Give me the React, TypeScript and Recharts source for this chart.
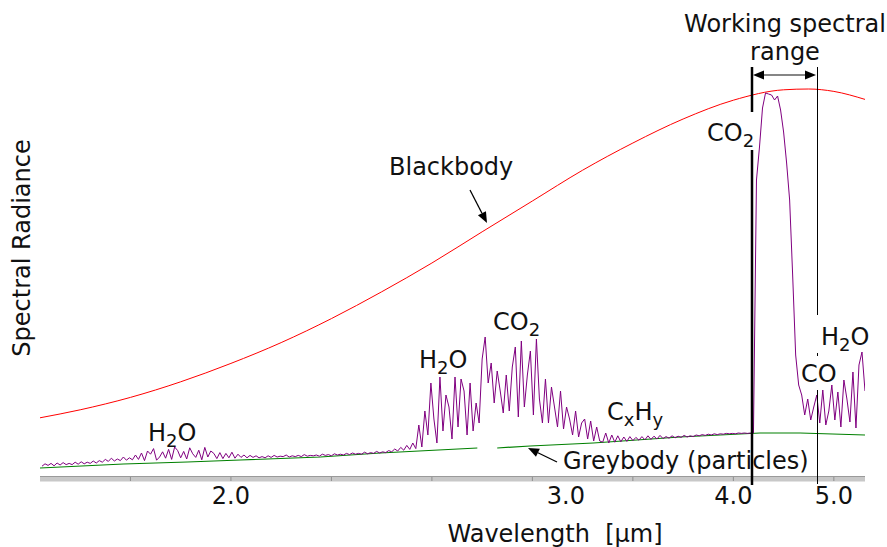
import React from "react";
import { LineChart, Line, XAxis, YAxis } from "recharts";

const FONT = "'DejaVu Sans', Verdana, sans-serif";

// axis is linear in wavenumber (cm^-1), labelled in wavelength (µm)
const TICK_MARKS = [5500, 5000, 4500, 4000, 3500, 3000, 2500, 2000];
const WAVELENGTH_LABELS = [2.0, 3.0, 4.0, 5.0];

// measured emission spectrum, one value every 15 cm^-1 starting at 5940 cm^-1
const SPEC_START = 5940;
const SPEC_STEP = 15;
const SPECTRUM = [
  3.2, 3.8, 3.4, 3.9, 3.3, 4.0, 3.5, 4.1, 3.6, 3.9, 3.6, 4.2, 3.7, 4.3, 3.8, 4.2, 3.9, 4.5, 4.0, 4.6,
  4.2, 4.9, 4.4, 5.2, 4.5, 5.0, 4.6, 5.5, 4.7, 5.3, 4.8, 6.0, 4.9,
  6.5, 4.6, 7.0, 6.2, 7.6, 4.7, 5.5, 6.8, 5.2, 7.4, 4.9, 8.0, 7.1, 5.3, 6.9, 5.0, 7.8, 6.3, 5.4, 7.2, 4.8, 7.9, 5.5, 7.0, 6.4, 5.1,
  6.6, 5.1, 6.4, 5.3, 6.7, 5.2, 6.2, 5.4, 6.0, 5.3, 5.9, 5.4, 5.8, 5.3,
  5.6, 5.3, 5.8, 5.4, 5.9, 5.5, 5.7, 5.6, 6.0, 5.5, 5.8, 5.6, 5.9, 5.6, 6.1, 5.7, 5.9, 5.8, 6.0, 5.7,
  6.2, 5.9, 6.1, 5.8, 6.3, 6.0, 6.2, 6.0, 6.4, 6.1, 6.5, 6.2, 6.4, 6.2, 6.7, 6.3, 6.6, 6.4, 6.9, 6.5,
  6.8, 6.6, 7.1, 6.8, 7.5, 7.0, 7.9, 7.2, 8.4, 7.4, 9.0, 7.6,
  13.5, 8, 17, 11, 24, 15, 9, 25.5, 12, 21, 18, 10, 25.5, 13, 25, 22, 11, 24, 12, 19, 14,
  30, 35.5, 24, 29, 19, 27, 22, 16.5, 26, 17, 28, 33, 15.5, 34.5, 18, 26, 32, 16, 35, 20, 14,
  25, 14, 23, 18, 13, 22, 12.5, 18, 15, 11, 17, 10.5, 14, 15, 10, 14.5, 9.5, 13, 9.5,
  9.2, 11.5, 9, 11, 9.2, 10.8, 9.3, 10.5, 9.4, 10.6,
  9.6, 10.4, 9.7, 10.6, 9.8, 10.8, 9.9, 10.7, 10.0, 10.9, 10.1, 10.6, 10.2, 10.8, 10.3, 10.7, 10.4, 10.9, 10.5, 10.8,
  10.6, 11.0, 10.8, 11.1, 10.9, 11.2, 11.0, 11.3, 11.1, 11.3, 11.2, 11.4, 11.3, 11.4, 11.3, 11.5, 11.4, 11.5, 11.4, 11.5, 11.5,
  74.75, 83, 92.75, 96.5, 96.25, 96, 94.75, 95.75, 92.25, 86.75, 79, 69.75, 51, 31, 23.5,
  21, 16, 20, 14.75, 18, 21, 14, 22.25, 13.5, 17, 23.5, 14.75, 21.75, 13, 24.75, 20, 14.25, 26.75, 12.75, 28.5, 31.75, 22,
];

// blackbody curve
const BB_NU = [5950, 5750, 5500, 5250, 5000, 4750, 4500, 4250, 4000, 3750, 3500, 3250, 3000, 2750, 2500, 2250, 2125, 2000, 1845];
const BB_VAL = [15.3, 17.3, 20.4, 24.3, 28.9, 34.1, 40.1, 46.8, 54.0, 61.8, 69.5, 77.2, 84.0, 90.0, 94.7, 97.3, 97.5, 96.9, 94.9];

// greybody (particles) curve, with a short gap near 3725 cm^-1
const GB_NU = [5950, 5535, 5217, 4953, 4555, 4257, 3774, 3725, 3675, 3511, 3197, 2765, 2367, 2168, 1845];
const GB_VAL = [2.75, 3.75, 4.25, 4.75, 5.5, 6.5, 7.75, null, 7.75, 8.25, 9, 10.5, 11.5, 11.5, 11];

const specData = SPECTRUM.map((v, i) => ({ nu: SPEC_START - i * SPEC_STEP, v }));
const bbData = BB_NU.map((nu, i) => ({ nu, v: BB_VAL[i] }));
const gbData = GB_NU.map((nu, i) => ({ nu, v: GB_VAL[i] }));

const axisTicks = Array.from(new Set([...TICK_MARKS, ...WAVELENGTH_LABELS.map((l) => 1e4 / l)]));

function AxisTick({ x, y, payload }: any) {
  const v = payload.value;
  const lab = WAVELENGTH_LABELS.find((l) => Math.abs(1e4 / l - v) < 1e-6);
  return (
    <g>
      {TICK_MARKS.includes(v) && <line x1={x} x2={x} y1={y - 3} y2={y + 2} stroke="#8f8f8f" />}
      {lab !== undefined && (
        <text x={x} y={y + 25} textAnchor="middle" fontFamily={FONT} fontSize={24} fill="#111">
          {lab.toFixed(1)}
        </text>
      )}
    </g>
  );
}

function Arrow({ x1, y1, x2, y2, head = 11, half = 4.5, color = "#000", lineColor = "#000" }: any) {
  const dx = x2 - x1;
  const dy = y2 - y1;
  const len = Math.hypot(dx, dy);
  const ux = dx / len;
  const uy = dy / len;
  const bx = x2 - ux * head;
  const by = y2 - uy * head;
  const pts = `${x2},${y2} ${bx - uy * half},${by + ux * half} ${bx + uy * half},${by - ux * half}`;
  return (
    <g>
      <line x1={x1} y1={y1} x2={bx} y2={by} stroke={lineColor} strokeWidth={1.3} />
      <polygon points={pts} fill={color} />
    </g>
  );
}

const txt = { fontFamily: FONT, fontSize: 24, fill: "#111" };
const SUB = 18;

export default function App() {
  return (
    <div style={{ position: "absolute", left: 0, top: 0, width: 887, height: 547, background: "#fff" }}>
      <LineChart width={887} height={547} margin={{ top: 79, right: 22, bottom: 28, left: 40 }}>
        <XAxis
          type="number"
          dataKey="nu"
          domain={[1845, 5950]}
          reversed
          allowDataOverflow
          ticks={axisTicks}
          interval={0}
          tick={<AxisTick />}
          tickSize={0}
          tickMargin={0}
          tickLine={false}
          height={40}
          axisLine={{ stroke: "#c8c8c8", strokeWidth: 5 }}
        />
        <YAxis type="number" domain={[0, 100]} hide width={0} />
        <Line data={bbData} dataKey="v" type="monotone" stroke="#ff0000" strokeWidth={1} dot={false} isAnimationActive={false} />
        <Line data={gbData} dataKey="v" type="linear" stroke="#008000" strokeWidth={1.2} dot={false} connectNulls={false} isAnimationActive={false} />
        <Line data={specData} dataKey="v" type="linear" stroke="#800080" strokeWidth={1} dot={false} isAnimationActive={false} />
      </LineChart>

      <svg width={887} height={547} style={{ position: "absolute", left: 0, top: 0, pointerEvents: "none" }}>
        <line x1={40} x2={865} y1={476.5} y2={476.5} stroke="#9a9a9a" />

        {/* working spectral range markers */}
        <line x1={752} x2={752} y1={67} y2={112} stroke="#000" strokeWidth={2.5} />
        <line x1={752} x2={752} y1={150} y2={485} stroke="#000" strokeWidth={2.5} />
        <line x1={817.5} x2={817.5} y1={67} y2={315} stroke="#000" strokeWidth={1} />
        <line x1={817.5} x2={817.5} y1={353} y2={356} stroke="#000" strokeWidth={1} />
        <line x1={817.5} x2={817.5} y1={390} y2={484} stroke="#000" strokeWidth={1} />
        <Arrow x1={785} y1={75} x2={753} y2={75} lineColor="#444" />
        <Arrow x1={785} y1={75} x2={816} y2={75} lineColor="#444" />
        <text {...txt} x={785} y={32} textAnchor="middle">Working spectral</text>
        <text {...txt} x={785} y={60} textAnchor="middle">range</text>

        <Arrow x1={470} y1={190} x2={487} y2={223} />
        <Arrow x1={557} y1={462} x2={528} y2={448} />

        <text {...txt} x={389} y={175}>Blackbody</text>
        <text {...txt} x={563} y={469}>Greybody (particles)</text>

        <text {...txt} x={707} y={141}>CO<tspan dy={6} fontSize={SUB}>2</tspan></text>
        <text {...txt} x={148} y={441}>H<tspan dy={6} fontSize={SUB}>2</tspan><tspan dy={-6}>O</tspan></text>
        <text {...txt} x={419} y={368}>H<tspan dy={6} fontSize={SUB}>2</tspan><tspan dy={-6}>O</tspan></text>
        <text {...txt} x={493} y={330}>CO<tspan dy={6} fontSize={SUB}>2</tspan></text>
        <text {...txt} x={607} y={420}>C<tspan dy={6} fontSize={SUB}>x</tspan><tspan dy={-6}>H</tspan><tspan dy={6} fontSize={SUB}>y</tspan></text>
        <text {...txt} x={801} y={382}>CO</text>
        <text {...txt} x={821} y={345}>H<tspan dy={6} fontSize={SUB}>2</tspan><tspan dy={-6}>O</tspan></text>

        <text {...txt} x={-248} y={30} transform="rotate(-90)" textAnchor="middle">Spectral Radiance</text>
        <text {...txt} x={555} y={542} textAnchor="middle">Wavelength{"\u00a0 "}[µm]</text>
      </svg>
    </div>
  );
}
